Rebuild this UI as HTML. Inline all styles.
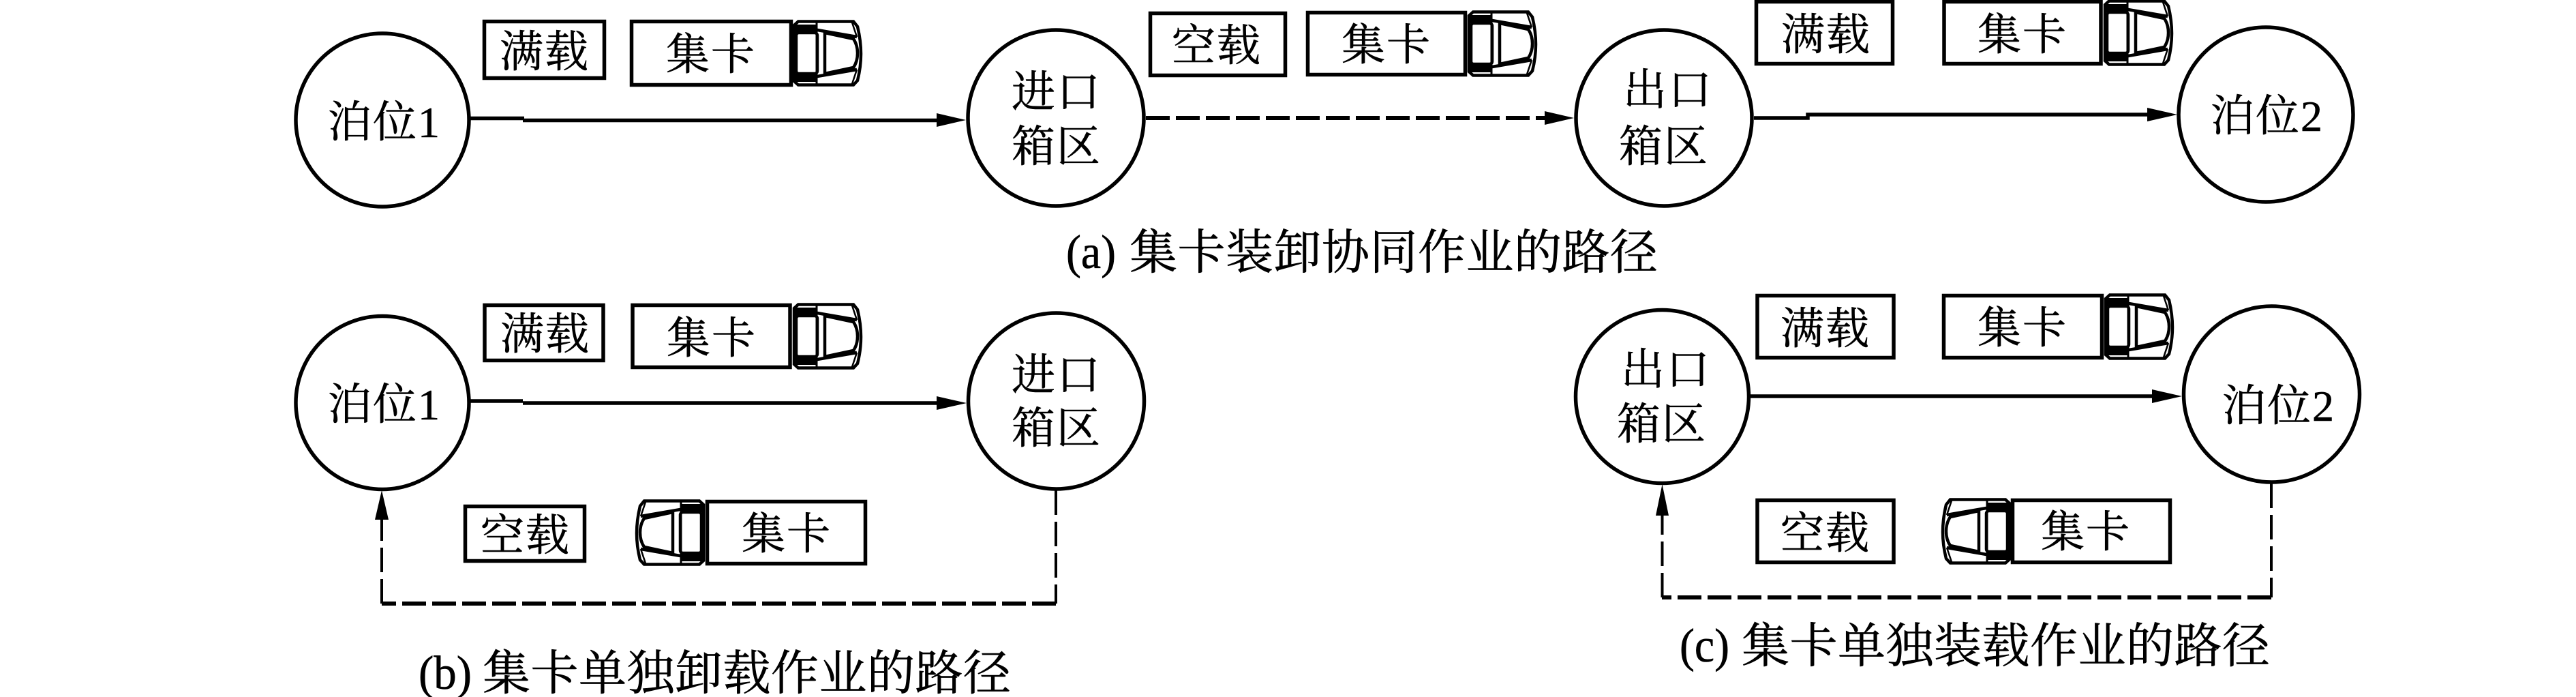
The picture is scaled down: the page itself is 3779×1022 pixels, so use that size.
<!DOCTYPE html>
<html lang="zh">
<head>
<meta charset="utf-8">
<title>集卡路径</title>
<style>
html,body{margin:0;padding:0;background:#fff;}
svg{display:block;}
text{font-family:"Liberation Serif","Noto Serif CJK SC",serif;fill:#000;stroke:#000;stroke-width:.6px;}
.n{font-size:64px;letter-spacing:2px;}
.c{font-size:70px;letter-spacing:.5px;}
.l{font-size:70px;}
.e{fill:#fff;stroke:#000;stroke-width:5.500;}
.b{fill:#fff;stroke:#000;stroke-width:5.500;}
.s{fill:none;stroke:#000;stroke-width:5.500;}
.d{fill:none;stroke:#000;stroke-width:6;stroke-dasharray:35 9;}
.v{fill:none;stroke:#000;stroke-width:4;stroke-dasharray:36 10;}
</style>
</head>
<body>
<svg xmlns="http://www.w3.org/2000/svg" width="3779" height="1022" viewBox="0 0 3779 1022">
<defs>
<g id="truck">
<path d="M0 7L6 1.500H87L93 9Q98 30 98 49Q98 68 93 88L87 94.500H6L0 89Z" fill="#fff" stroke="#000" stroke-width="4.500"/>
<rect x="1" y="6" width="32" height="12"/>
<rect x="1" y="78" width="32" height="12"/>
<rect x="3" y="18" width="31" height="60" rx="4" fill="#fff" stroke="#000" stroke-width="4.500"/>
<path d="M33 1V95" fill="none" stroke="#000" stroke-width="3"/>
<path d="M34 14L92 24M34 82L92 72" fill="none" stroke="#000" stroke-width="4.500"/>
<path d="M45 18L87 27Q93 36 93 48Q93 60 87 69L45 78Z" fill="#fff" stroke="#000" stroke-width="4.500"/>
<path d="M85 3L92 24M85 93L92 72" fill="none" stroke="#000" stroke-width="2.500"/>
</g>
</defs>

<!-- (a) -->
<circle class="e" cx="561" cy="176" r="127"/>
<circle class="e" cx="1549" cy="173" r="129"/>
<circle class="e" cx="2441" cy="173" r="129"/>
<circle class="e" cx="3324" cy="168" r="128"/>
<path class="s" d="M690 173.500H769"/>
<path class="s" d="M767 176.500H1380"/>
<polygon points="1374,166 1417,176 1374,186"/>
<path class="d" d="M1681 173H2270"/>
<polygon points="2266,163 2309,173 2266,183"/>
<path class="s" d="M2573 173H2652V168H3155"/>
<polygon points="3150,158 3194,168 3150,178"/>
<rect class="b" x="710.500" y="31.500" width="176" height="83"/>
<rect class="b" x="926.500" y="31.500" width="234" height="93"/>
<use href="#truck" transform="translate(1165,30)"/>
<rect class="b" x="1687.500" y="19.500" width="198" height="91"/>
<rect class="b" x="1918.500" y="18.500" width="231" height="91"/>
<use href="#truck" transform="translate(2155,16)"/>
<rect class="b" x="2576.500" y="2.500" width="200" height="91"/>
<rect class="b" x="2852" y="2.500" width="230" height="91"/>
<use href="#truck" transform="translate(3088,0)"/>
<text class="n" x="733" y="98">满载</text>
<text class="n" x="977" y="102">集卡</text>
<text class="n" x="481" y="201">泊位1</text>
<text class="n" x="1484" y="157">进口</text>
<text class="n" x="1484" y="237">箱区</text>
<text class="n" x="1719" y="89">空载</text>
<text class="n" x="1968" y="88">集卡</text>
<text class="n" x="2381" y="154">出口</text>
<text class="n" x="2375" y="237">箱区</text>
<text class="n" x="2613" y="73">满载</text>
<text class="n" x="2901" y="73">集卡</text>
<text class="n" x="3243" y="192">泊位2</text>
<text class="l" x="1564" y="393" textLength="73" lengthAdjust="spacingAndGlyphs">(a)</text>
<text class="c" x="1657" y="394">集卡装卸协同作业的路径</text>

<!-- (b) -->
<circle class="e" cx="561" cy="590.500" r="127"/>
<circle class="e" cx="1549.500" cy="588" r="129"/>
<path class="s" d="M690 588H767"/>
<path class="s" d="M767 591H1380"/>
<polygon points="1374,581 1418,591 1374,601"/>
<path class="v" d="M1549 719V885"/>
<path class="d" d="M1549 885H560"/>
<path class="v" d="M560 885V758"/>
<polygon points="550,762 560,719 570,762"/>
<rect class="b" x="711" y="447.500" width="174" height="81"/>
<rect class="b" x="928" y="447.500" width="231" height="91"/>
<use href="#truck" transform="translate(1165,445)"/>
<rect class="b" x="682.500" y="742.500" width="175" height="80"/>
<rect class="b" x="1037.500" y="735.500" width="232" height="91"/>
<use href="#truck" transform="translate(1032,733) scale(-1,1)"/>
<text class="n" x="734" y="512">满载</text>
<text class="n" x="978" y="518">集卡</text>
<text class="n" x="481" y="615">泊位1</text>
<text class="n" x="1484" y="572">进口</text>
<text class="n" x="1484" y="650">箱区</text>
<text class="n" x="705" y="807">空载</text>
<text class="n" x="1088" y="805">集卡</text>
<text class="l" x="614" y="1010" textLength="78" lengthAdjust="spacingAndGlyphs">(b)</text>
<text class="c" x="708" y="1011">集卡单独卸载作业的路径</text>

<!-- (c) -->
<circle class="e" cx="2438.500" cy="581.500" r="127"/>
<circle class="e" cx="3332.500" cy="578" r="129"/>
<path class="s" d="M2568 581H3162"/>
<polygon points="3157,571 3201,581 3157,591"/>
<path class="v" d="M3332 709V876"/>
<path class="d" d="M3332 876H2438"/>
<path class="v" d="M2438.500 876V750"/>
<polygon points="2429,756 2438.500,710 2448,756"/>
<rect class="b" x="2578" y="433.500" width="200" height="91"/>
<rect class="b" x="2851.500" y="433.500" width="232" height="91"/>
<use href="#truck" transform="translate(3089,431)"/>
<rect class="b" x="2578" y="733.500" width="200" height="91"/>
<rect class="b" x="2952.500" y="733.500" width="231" height="91"/>
<use href="#truck" transform="translate(2948,731) scale(-1,1)"/>
<text class="n" x="2612" y="504">满载</text>
<text class="n" x="2901" y="503">集卡</text>
<text class="n" x="2378" y="564">出口</text>
<text class="n" x="2372" y="644">箱区</text>
<text class="n" x="3260" y="617">泊位2</text>
<text class="n" x="2612" y="804">空载</text>
<text class="n" x="2994" y="802">集卡</text>
<text class="l" x="2464" y="970" textLength="73" lengthAdjust="spacingAndGlyphs">(c)</text>
<text class="c" x="2555" y="971">集卡单独装载作业的路径</text>
</svg>
</body>
</html>
